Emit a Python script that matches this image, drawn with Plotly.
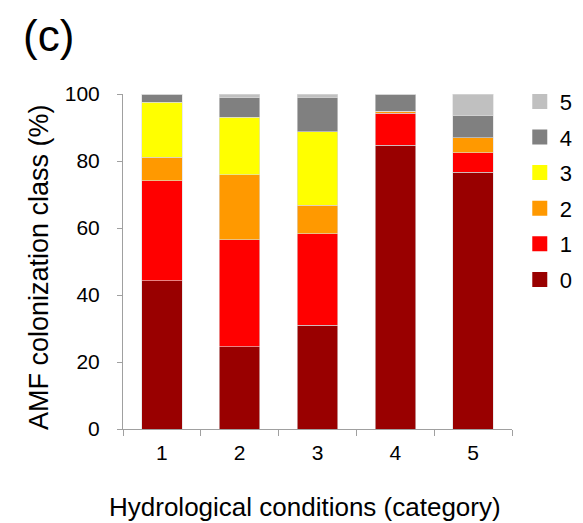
import plotly.graph_objects as go

# Hydrological condition categories (x axis)
categories = ["1", "2", "3", "4", "5"]

# Share of roots (%) in each AMF colonization class, per category
class0 = [44.2, 24.5, 31.0, 84.7, 76.6]
class1 = [29.9, 32.0, 27.3, 9.5, 5.9]
class2 = [7.0, 19.4, 8.5, 0.7, 4.4]
class3 = [16.4, 17.1, 21.9, 0.0, 0.0]
class4 = [2.5, 5.9, 10.3, 5.1, 6.6]
class5 = [0.0, 1.1, 1.0, 0.0, 6.5]

class_names = ["0", "1", "2", "3", "4", "5"]
class_values = [class0, class1, class2, class3, class4, class5]
class_colors = ["#990000", "#ff0000", "#ff9900", "#ffff00", "#808080", "#c0c0c0"]

FONT = "Liberation Sans, Arial, Helvetica, sans-serif"
AXIS_GRAY = "#a0a0a0"

fig = go.Figure()

# Stacked bars, class 0 at the bottom
for name, vals, col in zip(class_names, class_values, class_colors):
    fig.add_trace(go.Bar(
        x=categories, y=vals, name=name,
        marker=dict(color=col, line=dict(color="rgba(220,220,220,1)", width=0.6)),
        showlegend=False,
    ))

# Legend entries with larger square swatches, listed 5 down to 0
for i, (name, col) in enumerate(reversed(list(zip(class_names, class_colors)))):
    fig.add_trace(go.Scatter(
        x=[None], y=[None], mode="markers", name=name,
        marker=dict(symbol="square", size=15, color=col),
        legendgroup=f"g{i}", showlegend=True,
    ))

fig.update_layout(
    barmode="stack",
    bargap=0.48,
    width=583, height=523,
    margin=dict(l=123, r=71, t=94, b=94, autoexpand=False),
    paper_bgcolor="white", plot_bgcolor="white",
    font=dict(family=FONT, color="black"),
    legend=dict(
        x=1.020, y=1.04, xanchor="left", yanchor="top",
        font=dict(size=22, family=FONT),
        traceorder="grouped", tracegroupgap=4,
        itemsizing="trace",
        bgcolor="rgba(0,0,0,0)",
    ),
    xaxis=dict(
        type="category",
        showline=True, linecolor=AXIS_GRAY, linewidth=1,
        ticks="outside", tickson="boundaries", ticklen=6,
        tickcolor=AXIS_GRAY, tickwidth=1,
        tickfont=dict(size=21, family=FONT),
        ticklabelstandoff=5,
        showgrid=False, zeroline=False,
    ),
    yaxis=dict(
        range=[0, 100],
        tickvals=[0, 20, 40, 60, 80, 100],
        showline=True, linecolor=AXIS_GRAY, linewidth=1,
        ticks="outside", ticklen=5, tickcolor=AXIS_GRAY, tickwidth=1,
        tickfont=dict(size=21, family=FONT),
        ticklabelstandoff=13,
        showgrid=False, zeroline=False,
    ),
    annotations=[
        dict(text="(c)", xref="paper", yref="paper",
             x=(48 - 123) / 389, y=(429 - 36) / 335,
             xanchor="center", yanchor="middle", showarrow=False,
             font=dict(size=44, family=FONT)),
        dict(text="AMF colonization class (%)", xref="paper", yref="paper",
             x=(39 - 123) / 389, y=(429 - 267) / 335,
             xanchor="center", yanchor="middle", textangle=-90, showarrow=False,
             font=dict(size=27, family=FONT)),
        dict(text="Hydrological conditions (category)", xref="paper", yref="paper",
             x=(305 - 123) / 389, y=(429 - 507) / 335,
             xanchor="center", yanchor="middle", showarrow=False,
             font=dict(size=26, family=FONT)),
    ],
)

fig.write_html("out.html")
